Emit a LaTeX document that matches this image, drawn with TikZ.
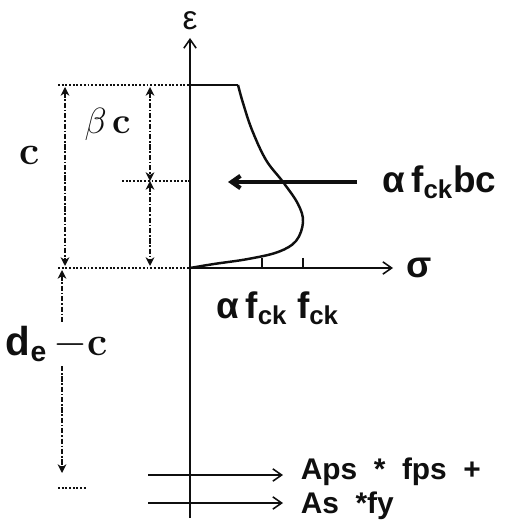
\documentclass[tikz,border=0pt]{standalone}
\usepackage{fontspec}
\newfontfamily\lsans{Liberation Sans}
\usepackage{tikz}
\usetikzlibrary{positioning,arrows.meta}
\definecolor{inkcol}{RGB}{15,15,15}
\tikzset{
  guide/.style={densely dotted, line width=1.1pt},
  dimline/.style={densely dash dot, line width=0.8pt, {Stealth[length=5pt,width=5pt]}-{Stealth[length=5pt,width=5pt]}},
  biglbl/.style={font=\lsans\bfseries\fontsize{21}{24}\selectfont, inner sep=0pt},
  smalllbl/.style={font=\lsans\bfseries\fontsize{17}{20}\selectfont, inner sep=0pt, anchor=base west},
  serifc/.style={font=\fontsize{23}{26}\selectfont\bfseries, inner sep=0pt}
}

\begin{document}
\begin{tikzpicture}[x=0.02cm, y=-0.02cm, >={Straight Barb[length=5pt,width=7pt]}, line width=0.9pt, inkcol]
\useasboundingbox (0,0) rectangle (506,526);
% axes
\coordinate (O) at (190, 268);
\coordinate (Etop) at (190, 38);
\coordinate (Ebot) at (190, 518);
\coordinate (Send) at (393, 268);
\draw[->] (Ebot) -- (Etop);
\draw[->] (O) -- (Send);
\node[biglbl, font=\lsans\fontsize{19}{22}\selectfont, above=4pt] (eps) at (Etop) {ε};
\node[biglbl, right=7pt] (sig) at (Send) {σ};
% guide lines
\coordinate (Ftop) at (190, 85);
\coordinate (Fmid) at (190, 181);
\coordinate (Gtop) at (58, 85);
\coordinate (Gmid) at (122, 181);
\coordinate (Gbot) at (58, 268);
\coordinate (Hl) at (58, 488);
\coordinate (Hr) at (86, 488);
\draw[guide] (Gtop) -- (Ftop);
\draw[guide] (Gmid) -- (Fmid);
\draw[guide] (Gbot) -- (O);
\draw[guide] (Hl) -- (Hr);
% dimensions
\coordinate (Ctop) at (65, 87);
\coordinate (Cbot) at (65, 266);
\coordinate (Btop) at (150, 87);
\coordinate (Bmid) at (150, 181);
\coordinate (Bbot) at (150, 266);
\draw[dimline] (Ctop) -- (Cbot);
\draw[dimline] (Btop) -- (Bmid);
\draw[dimline] (Bmid) -- (Bbot);
\node[serifc] (clbl) at (30, 155) {c};
\node[serifc, font=\fontsize{21}{24}\selectfont\bfseries] (bclbl) at (108, 124) {$\beta$\,c};
\coordinate (Dtop) at (62, 270);
\coordinate (Dgap1) at (62, 322);
\coordinate (Dgap2) at (62, 366);
\coordinate (Dbot) at (62, 473);
\draw[densely dash dot, line width=0.8pt, {Stealth[length=5pt,width=5pt]}-] (Dtop) -- (Dgap1);
\draw[densely dash dot, line width=0.8pt, -{Stealth[length=5pt,width=5pt]}] (Dgap2) -- (Dbot);
\node[serifc] (declbl) at (57, 344) {{\lsans d\textsubscript{e}}\,$-$c};
% stress block
\coordinate (Kink) at (238, 85);
\draw (Ftop) -- (Kink);
\draw[line width=1.4pt] plot[smooth, tension=0.6] coordinates {(238,85) (243,103) (252,130) (266,160) (283,182) (298,204) (303,222) (296,241) (278,252) (248,259) (214,264) (190,268)};
% ticks
\coordinate (T1) at (262, 258);
\coordinate (T1b) at (262, 268);
\coordinate (T2) at (303, 258);
\coordinate (T2b) at (303, 268);
\draw (T1) -- (T1b);
\draw (T2) -- (T2b);
\node[biglbl, anchor=north] (afck) at (252, 291) {α\,f\textsubscript{ck}};
\node[biglbl, anchor=north] (fck) at (318, 291) {f\textsubscript{ck}};
% resultant
\coordinate (Rtail) at (357, 182);
\coordinate (Rhead) at (228, 182);
\draw[->, line width=2.4pt] (Rtail) -- (Rhead);
\node[biglbl, right=14pt] (rlbl) at (Rtail) {α\,f\textsubscript{ck}bc};
% steel forces
\coordinate (P1) at (148, 475);
\coordinate (P2) at (283, 475);
\coordinate (S1) at (148, 503);
\coordinate (S2) at (283, 503);
\draw[->] (P1) -- (P2);
\draw[->] (S1) -- (S2);
\node[smalllbl] (plbl) at (300, 479) {Aps \;*\; fps \;+};
\node[smalllbl] (slbl) at (300, 513) {As \;*fy};
\end{tikzpicture}
\end{document}
